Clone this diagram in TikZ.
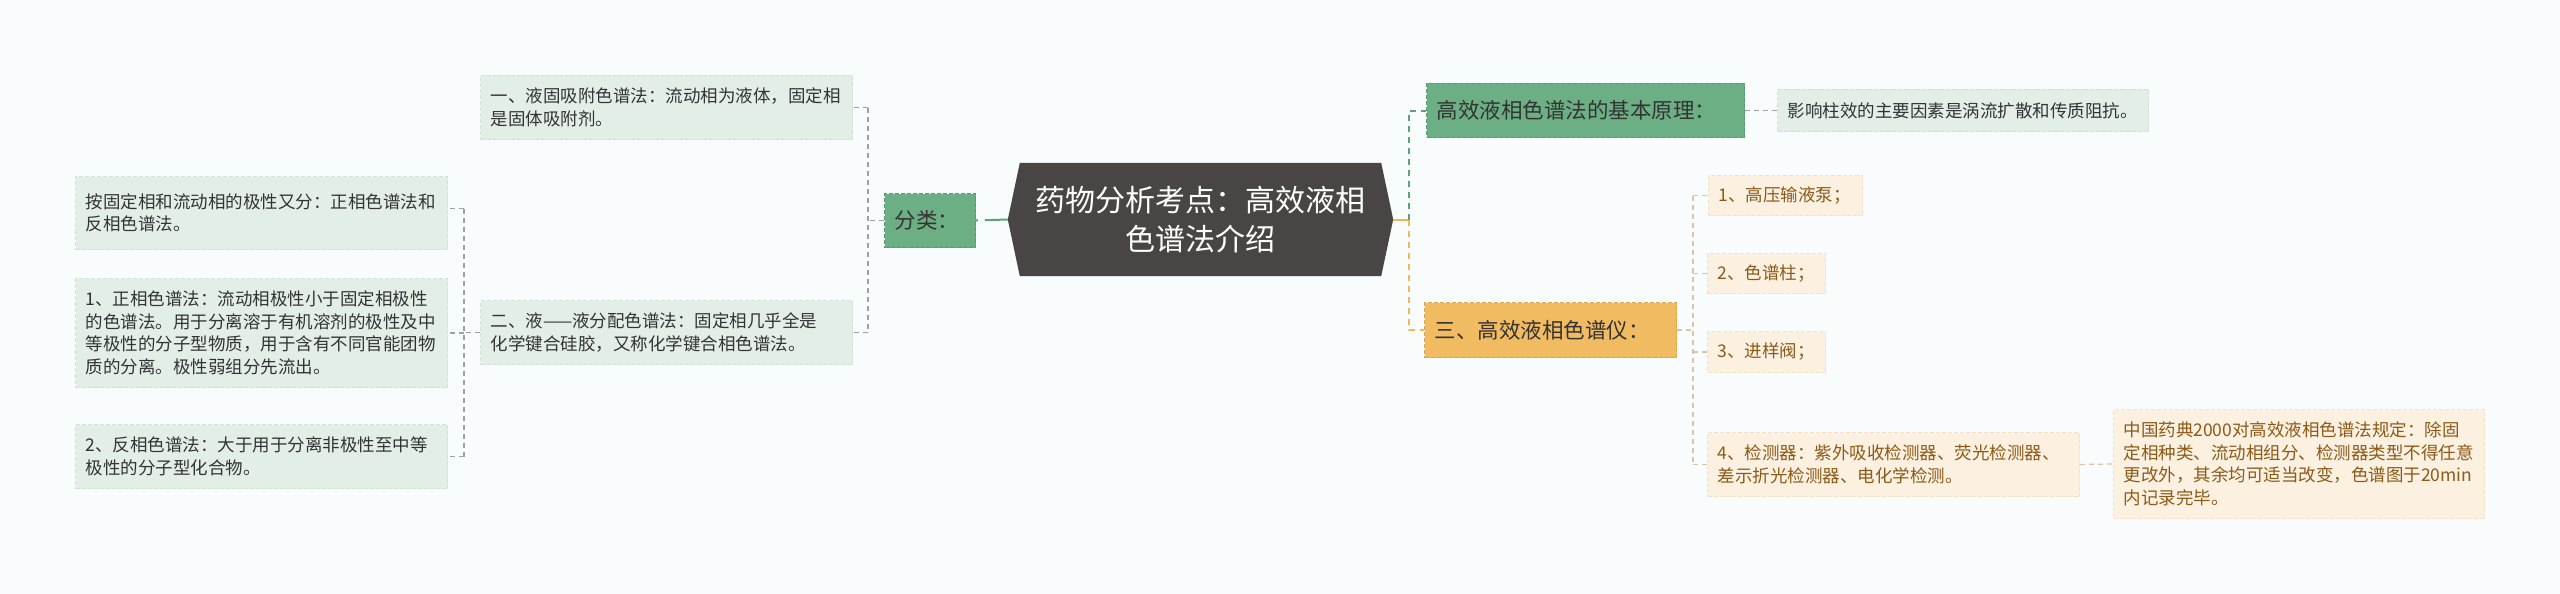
\documentclass[tikz,border=0pt]{standalone}
\usepackage{fontspec}
\setmainfont{Noto Sans CJK SC}
\usetikzlibrary{backgrounds}
\definecolor{bg}{HTML}{F8FCFC}
\definecolor{dgfill}{HTML}{6DAF85}
\definecolor{dgborder}{HTML}{5A9A72}
\definecolor{lgfill}{HTML}{E3EFE6}
\definecolor{lgborder}{HTML}{D0E2D5}
\definecolor{ofill}{HTML}{F1BC61}
\definecolor{oborder}{HTML}{DDA54A}
\definecolor{lofill}{HTML}{FCF0E1}
\definecolor{loborder}{HTML}{F2E0C8}
\definecolor{txt}{HTML}{333333}
\definecolor{browntxt}{HTML}{8B5A17}
\definecolor{rootfill}{HTML}{4A4545}
\definecolor{lineGray}{HTML}{A0A0A0}
\definecolor{lineTan}{HTML}{D8C5A8}
\definecolor{lineGreen}{HTML}{5EA27A}
\definecolor{lineOrange}{HTML}{F0B658}
\tikzset{
  box/.style={anchor=north west, inner xsep=10pt, inner ysep=0pt, align=left,
    line width=1pt, dash pattern=on 4pt off 2pt},
  smallfont/.style={font=\fontsize{17.5}{22.5}\selectfont},
  midfont/.style={font=\fontsize{21.5}{27}\selectfont},
  lg/.style={box, fill=lgfill, draw=lgborder, text=txt, smallfont},
  lo/.style={box, fill=lofill, draw=loborder, text=browntxt, smallfont},
  dg/.style={box, fill=dgfill, draw=dgborder, text=txt, midfont},
  og/.style={box, fill=ofill, draw=oborder, text=txt, midfont},
  gline/.style={draw=lineGray, line width=1.3pt, dash pattern=on 5pt off 4pt},
  tline/.style={draw=lineTan, line width=1.3pt, dash pattern=on 5pt off 4pt},
  greenv/.style={draw=lineGreen, line width=2pt, dash pattern=on 6pt off 5pt},
  orangev/.style={draw=lineOrange, line width=2pt, dash pattern=on 6pt off 5pt},
  rootnode/.style={minimum width=385pt, minimum height=113pt, inner sep=0pt,
    align=center, text=white, font=\fontsize{30}{39}\selectfont}
}
\begin{document}
\begin{tikzpicture}[x=1pt,y=-1pt]
\useasboundingbox (0,0) rectangle (2560,594);
\begin{scope}[on background layer]
\fill[bg] (0,0) rectangle (2560,594);
\end{scope}

% root
\node[rootnode] (root) at (1200.5,219.5) {药物分析考点：高效液相\\色谱法介绍};
\begin{scope}[on background layer]
\fill[rootfill] (root.west) -- ([xshift=12pt]root.north west) -- ([xshift=-12pt]root.north east)
  -- (root.east) -- ([xshift=-12pt]root.south east) -- ([xshift=12pt]root.south west) -- cycle;
\end{scope}

% left side
\node[dg, text width=71pt, minimum height=54pt] (fenlei) at (884,193) {分类：};
\node[lg, text width=352pt, minimum height=64pt] (b1) at (480,75) {一、液固吸附色谱法：流动相为液体，固定相\\是固体吸附剂。};
\node[lg, text width=352pt, minimum height=64pt] (b2) at (480,300) {二、液——液分配色谱法：固定相几乎全是\\化学键合硅胶，又称化学键合相色谱法。};
\node[lg, text width=352pt, minimum height=73pt] (b3) at (75,176) {按固定相和流动相的极性又分：正相色谱法和\\反相色谱法。};
\node[lg, text width=352pt, minimum height=109pt] (b4) at (75,278) {1、正相色谱法：流动相极性小于固定相极性\\的色谱法。用于分离溶于有机溶剂的极性及中\\等极性的分子型物质，用于含有不同官能团物\\质的分离。极性弱组分先流出。};
\node[lg, text width=352pt, minimum height=64pt] (b5) at (75,424) {2、反相色谱法：大于用于分离非极性至中等\\极性的分子型化合物。};

% right side
\node[dg, text width=298pt, minimum height=54pt] (yuanli) at (1426,83) {高效液相色谱法的基本原理：};
\node[lg, text width=351pt, minimum height=42pt] (yingxiang) at (1777,89) {影响柱效的主要因素是涡流扩散和传质阻抗。};
\node[og, text width=232pt, minimum height=55pt] (san) at (1424,302) {三、高效液相色谱仪：};
\node[lo, text width=134pt, minimum height=40pt] (c1) at (1708,175) {1、高压输液泵；};
\node[lo, text width=98pt, minimum height=40pt] (c2) at (1707,253) {2、色谱柱；};
\node[lo, text width=98pt, minimum height=41pt] (c3) at (1707,331) {3、进样阀；};
\node[lo, text width=352pt, minimum height=64pt] (c4) at (1707,432) {4、检测器：紫外吸收检测器、荧光检测器、\\差示折光检测器、电化学检测。};
\node[lo, text width=351pt, minimum height=109pt] (d1) at (2113,409) {中国药典2000对高效液相色谱法规定：除固\\定相种类、流动相组分、检测器类型不得任意\\更改外，其余均可适当改变，色谱图于20min\\内记录完毕。};

% connectors: root to 分类
\draw[draw=lineGreen, line width=2pt, dash pattern=on 23pt off 7pt] (root.west) -- (fenlei.east);
\coordinate (jL) at ([xshift=-16pt]fenlei.west);
\draw[gline] (fenlei.west) -- (jL);
\draw[gline] (jL |- b1.east) -- (jL |- b2.east);
\draw[gline] (jL |- b1.east) -- (b1.east);
\draw[gline] (jL |- b2.east) -- (b2.east);

\coordinate (jL2) at ([xshift=-16pt]b2.west);
\coordinate (t3) at ([yshift=4.5pt]b3.east);
\draw[gline] (b2.west) -- (jL2);
\draw[gline] (jL2 |- t3) -- (jL2 |- b5.east);
\draw[gline] (jL2 |- t3) -- (t3);
\draw[gline] (jL2 |- b4.east) -- (b4.east);
\draw[gline] (jL2 |- b5.east) -- (b5.east);

% right connectors
\coordinate (jR) at ([xshift=16pt]root.east);
\draw[draw=lineOrange, line width=2pt] (root.east) -- (jR);
\draw[greenv] (jR) -- (jR |- yuanli.west) -- (yuanli.west);
\draw[orangev] (jR) -- (jR |- san.west) -- (san.west);
\draw[gline] (yuanli.east) -- (yingxiang.west);

\coordinate (jR2) at ([xshift=16pt]san.east);
\draw[tline] (san.east) -- (jR2);
\draw[tline] (jR2 |- c1.west) -- (jR2 |- c4.west);
\draw[tline] (jR2 |- c1.west) -- (c1.west);
\draw[tline] (jR2 |- c2.west) -- (c2.west);
\draw[tline] (jR2 |- c3.west) -- (c3.west);
\draw[tline] (jR2 |- c4.west) -- (c4.west);
\draw[tline] (c4.east) -- (d1.west);
\end{tikzpicture}
\end{document}
